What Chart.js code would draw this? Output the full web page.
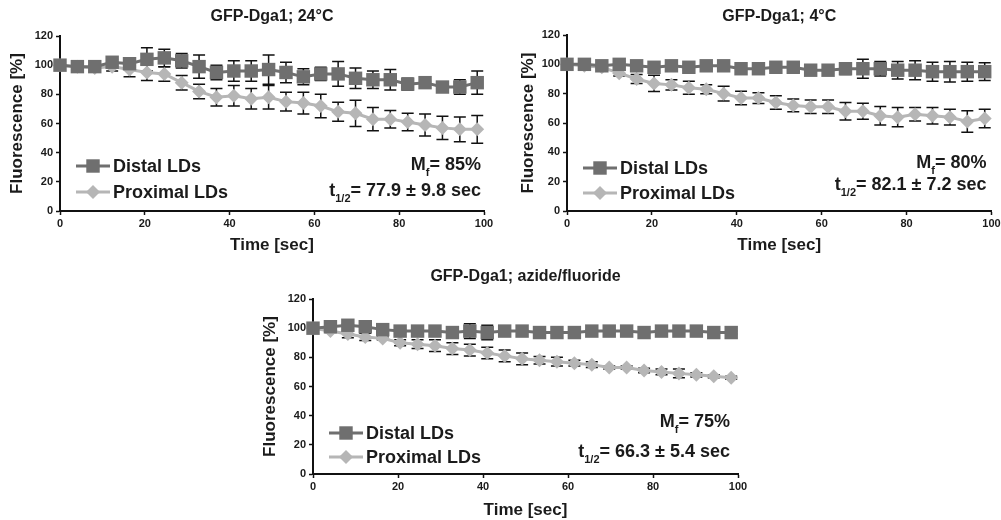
<!DOCTYPE html>
<html>
<head>
<meta charset="utf-8">
<script src="https://cdn.jsdelivr.net/npm/chart.js@4/dist/chart.umd.min.js"></script>
<style>
  body { margin: 0; width: 1001px; height: 520px; overflow: hidden; background: #fff; position: relative; }
  canvas { position: absolute; }
</style>
</head>
<body>
<canvas id="c24" width="500" height="260" style="left:0;top:0"></canvas>
<canvas id="c4" width="494" height="260" style="left:507px;top:0"></canvas>
<canvas id="cAz" width="500" height="255" style="left:253px;top:265px"></canvas>
<script>
// time points (sec), shared by all panels
const times = [0, 4.1, 8.2, 12.3, 16.4, 20.5, 24.6, 28.7, 32.8, 36.9, 41.0, 45.1, 49.2,
  53.3, 57.4, 61.5, 65.6, 69.7, 73.8, 77.9, 82.0, 86.1, 90.2, 94.3, 98.4];

// GFP-Dga1; 24°C
const distal24 = [100, 99, 99, 102, 101, 104, 105, 103, 99, 95, 96, 96, 97, 95, 92, 94, 94, 91, 90, 90, 87, 88, 85, 85, 88];
const distal24Err = [1, 1, 1, 2, 2, 8, 6, 5, 8, 5, 7, 7, 10, 7, 5.5, 4.5, 8.5, 7, 6, 7, 4, 1, 2, 5, 8];
const proximal24 = [100, 99, 98, 99, 97, 95, 94, 88, 82, 78, 79, 77, 78, 75, 74, 72, 68, 67, 63, 63, 61, 59, 57, 56, 56];
const proximal24Err = [1, 1, 2, 3, 5, 5.5, 5, 5, 5, 6, 7, 7, 8, 6.5, 7.5, 8, 6.5, 9, 8, 6, 6, 7.5, 8, 8.5, 9.5];

// GFP-Dga1; 4°C
const distal4 = [100, 100, 99, 100, 99, 98, 99, 98, 99, 99, 97, 97, 98, 98, 96, 96, 97, 97, 97, 96, 96, 95, 95, 95, 95];
const distal4Err = [1, 1, 1, 2, 2, 3, 2, 2, 2, 2, 2, 2, 2, 2, 2, 2, 4, 6.5, 5, 6, 6.5, 6.5, 7, 6.5, 6];
const proximal4 = [100, 99, 98, 94, 90, 87, 86, 84, 83, 80, 77, 77, 74, 72, 71, 71, 68, 68, 65, 64, 66, 65, 64, 61, 63];
const proximal4Err = [1, 1, 1, 2, 3, 5.5, 3.5, 4.4, 3, 5, 4.6, 3.7, 4.6, 4.4, 4.6, 4.6, 6, 5.5, 6.3, 6.6, 4.6, 5.6, 5.4, 7.3, 6.3];

// GFP-Dga1; azide/fluoride
const distalAz = [100, 101, 102, 101, 99, 98, 98, 98, 97, 98, 97, 98, 98, 97, 97, 97, 98, 98, 98, 97, 98, 98, 98, 97, 97];
const distalAzErr = [1, 1, 1, 1, 1, 1, 1, 1, 3, 5, 5, 1, 1, 1, 1, 1, 1, 1, 1, 1, 1, 1, 1, 1, 1];
const proximalAz = [100, 98, 96, 94, 93, 90, 89, 88, 86, 85, 83, 81, 79, 78, 77, 76, 75, 73, 73, 71, 70, 69, 68, 67, 66];
const proximalAzErr = [1, 1, 2.5, 2.5, 1, 2, 3, 4, 4, 4, 4, 4, 4, 2.5, 3, 2, 2, 1, 1, 1.5, 2, 3, 1.5, 1, 1];

const seriesNames = ['Distal LDs', 'Proximal LDs'];
const xTicks = [0, 20, 40, 60, 80, 100];
const yTicks = [0, 20, 40, 60, 80, 100, 120];
const mfText = ['85%', '80%', '75%'];
const halfText = ['77.9 ± 9.8 sec', '82.1 ± 7.2 sec', '66.3 ± 5.4 sec'];

const FONT = "'Liberation Sans', Arial, Helvetica, sans-serif";
const distalColor = '#6f6f6f';
const proximalColor = '#b6b6b6';
const ink = '#1b1b1b';

function pts(ys) {
  return times.map((t, i) => ({ x: t, y: ys[i] }));
}

// error bars drawn under the markers
const errorBars = {
  id: 'errorBars',
  beforeDatasetsDraw(chart) {
    const { ctx, scales: { x, y } } = chart;
    ctx.save();
    ctx.strokeStyle = '#111';
    ctx.lineWidth = 1.5;
    chart.data.datasets.forEach(ds => {
      ds.data.forEach((p, i) => {
        const e = ds.errors[i];
        const px = x.getPixelForValue(p.x);
        const t = y.getPixelForValue(p.y + e);
        const b = y.getPixelForValue(p.y - e);
        ctx.beginPath();
        ctx.moveTo(px, t); ctx.lineTo(px, b);
        ctx.moveTo(px - 6, t); ctx.lineTo(px + 6, t);
        ctx.moveTo(px - 6, b); ctx.lineTo(px + 6, b);
        ctx.stroke();
      });
    });
    ctx.restore();
  }
};

function marker(ctx, style, x, y, r, color) {
  ctx.fillStyle = color;
  ctx.beginPath();
  if (style === 'rect') {
    const s = r * Math.SQRT1_2;
    ctx.rect(x - s, y - s, 2 * s, 2 * s);
  } else {
    ctx.moveTo(x - r, y); ctx.lineTo(x, y - r); ctx.lineTo(x + r, y); ctx.lineTo(x, y + r);
    ctx.closePath();
  }
  ctx.fill();
}

// excel-like legend + M_f / t1/2 notes
const notes = {
  id: 'notes',
  afterDraw(chart, args, o) {
    const { ctx, chartArea: a } = chart;
    ctx.save();
    ctx.textBaseline = 'middle';
    chart.data.datasets.forEach((ds, i) => {
      const y = a.bottom - o.legendY[i];
      const x0 = a.left + o.legendX;
      ctx.strokeStyle = ds.borderColor;
      ctx.lineWidth = 3;
      ctx.beginPath(); ctx.moveTo(x0, y); ctx.lineTo(x0 + 34, y); ctx.stroke();
      marker(ctx, ds.pointStyle, x0 + 17, y, ds.pointRadius, ds.borderColor);
      ctx.fillStyle = ink;
      ctx.font = 'bold 18px ' + FONT;
      ctx.textAlign = 'left';
      ctx.fillText(ds.label, x0 + 37, y + 1);
    });

    const lines = [
      [['M', 0], ['f', 1], ['= ' + o.mf, 0]],
      [['t', 0], ['1/2', 1], ['= ' + o.half, 0]]
    ];
    lines.forEach((parts, i) => {
      const y = a.bottom - o.noteY[i];
      let w = 0;
      parts.forEach(([s, sub]) => {
        ctx.font = 'bold ' + (sub ? 11 : 18) + 'px ' + FONT;
        w += ctx.measureText(s).width;
      });
      let x = a.right - o.noteRight - w;
      ctx.fillStyle = ink;
      ctx.textAlign = 'left';
      parts.forEach(([s, sub]) => {
        ctx.font = 'bold ' + (sub ? 11 : 18) + 'px ' + FONT;
        ctx.fillText(s, x, sub ? y + 8 : y);
        x += ctx.measureText(s).width;
      });
    });
    ctx.restore();
  }
};

function makeChart(id, p) {
  const titleLH = 16 * 1.2;
  const titleTop = p.titleY - titleLH / 2;
  const axisLH = 17 * 1.2;
  new Chart(document.getElementById(id), {
    type: 'line',
    data: {
      datasets: [
        {
          label: seriesNames[0], data: pts(p.distal), errors: p.distalErr,
          borderColor: distalColor, backgroundColor: distalColor, borderWidth: 3,
          pointStyle: 'rect', pointRadius: 9.5, pointBorderWidth: 0,
          pointBackgroundColor: distalColor, clip: false
        },
        {
          label: seriesNames[1], data: pts(p.proximal), errors: p.proximalErr,
          borderColor: proximalColor, backgroundColor: proximalColor, borderWidth: 3,
          pointStyle: 'rectRot', pointRadius: 7, pointBorderWidth: 0,
          pointBackgroundColor: proximalColor, clip: false
        }
      ]
    },
    options: {
      responsive: false,
      animation: false,
      layout: { padding: { left: 0, top: 0, right: p.padRight, bottom: 0 } },
      plugins: {
        legend: { display: false },
        tooltip: { enabled: false },
        title: {
          display: true, text: p.title, color: ink, fullSize: false,
          font: { family: FONT, size: 16, weight: 'bold' },
          padding: { top: titleTop, bottom: p.areaTop - titleTop - titleLH }
        },
        notes: {
          legendX: 16, legendY: p.legendY, noteRight: p.noteRight, noteY: p.noteY,
          mf: p.mf, half: p.half
        }
      },
      scales: {
        x: {
          type: 'linear', min: 0, max: 100,
          afterBuildTicks: s => { s.ticks = xTicks.map(v => ({ value: v })); },
          ticks: { color: ink, font: { family: FONT, size: 11, weight: 'bold' }, padding: 2, maxRotation: 0 },
          grid: { drawOnChartArea: false, drawTicks: true, tickLength: 4, tickColor: '#111', tickWidth: 1.5 },
          border: { color: '#111', width: 2 },
          title: {
            display: true, text: 'Time [sec]', color: ink,
            font: { family: FONT, size: 17, weight: 'bold' },
            padding: { top: 0, bottom: p.h - p.xTitleY - axisLH / 2 }
          },
          afterFit: s => { s.height = p.h - p.areaBottom; s.paddingLeft = 0; s.paddingRight = 0; }
        },
        y: {
          type: 'linear', min: 0, max: 120,
          afterBuildTicks: s => { s.ticks = yTicks.map(v => ({ value: v })); },
          ticks: { color: ink, font: { family: FONT, size: 11, weight: 'bold' }, padding: 3 },
          grid: { drawOnChartArea: false, drawTicks: true, tickLength: 4, tickColor: '#111', tickWidth: 1.5 },
          border: { color: '#111', width: 2 },
          title: {
            display: true, text: 'Fluorescence [%]', color: ink,
            font: { family: FONT, size: 17, weight: 'bold' },
            padding: { top: p.yTitleX - axisLH / 2, bottom: 0 }
          },
          afterFit: s => { s.width = 60; s.paddingTop = 0; s.paddingBottom = 0; }
        }
      }
    },
    plugins: [errorBars, notes]
  });
}

makeChart('c24', {
  title: 'GFP-Dga1; 24°C', distal: distal24, distalErr: distal24Err,
  proximal: proximal24, proximalErr: proximal24Err,
  h: 260, titleY: 17, areaTop: 36, areaBottom: 211, xTitleY: 245, yTitleX: 17, padRight: 16,
  legendY: [45, 19], noteRight: 3, noteY: [46, 20], mf: mfText[0], half: halfText[0]
});
makeChart('c4', {
  title: 'GFP-Dga1; 4°C', distal: distal4, distalErr: distal4Err,
  proximal: proximal4, proximalErr: proximal4Err,
  h: 260, titleY: 17, areaTop: 35, areaBottom: 211, xTitleY: 245, yTitleX: 21, padRight: 9,
  legendY: [43, 18], noteRight: 5, noteY: [48, 26], mf: mfText[1], half: halfText[1]
});
makeChart('cAz', {
  title: 'GFP-Dga1; azide/fluoride', distal: distalAz, distalErr: distalAzErr,
  proximal: proximalAz, proximalErr: proximalAzErr,
  h: 255, titleY: 12, areaTop: 34, areaBottom: 209, xTitleY: 245, yTitleX: 17, padRight: 15,
  legendY: [41, 17], noteRight: 8, noteY: [52, 22], mf: mfText[2], half: halfText[2]
});
</script>
</body>
</html>
